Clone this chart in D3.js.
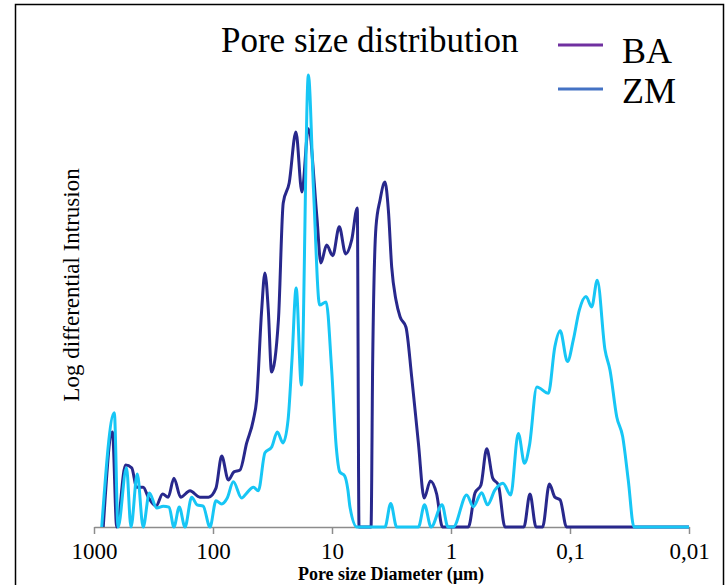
<!DOCTYPE html>
<html>
<head>
<meta charset="utf-8">
<script src="https://cdn.jsdelivr.net/npm/d3@7"></script>
<style>
  body { margin: 0; background: #fff; }
  svg { display: block; }
</style>
</head>
<body>
<svg id="chart" width="725" height="585"></svg>
<script>
// Pore diameters (µm) and log differential intrusion (relative units)
var baDiameter = [836, 700, 644, 543, 482, 438, 386, 350, 301, 265, 238, 213, 187, 156, 129, 109,
  94.4, 84.5, 74.3, 66.7, 59.3, 52.1, 45.8, 43.0, 39.0, 36.6, 34.3, 32.2, 28.2, 25.7, 22.9, 20.1,
  17.9, 15.8, 13.4, 12.4, 11.1, 9.86, 8.69, 7.67, 6.83, 6.13, 5.93, 4.70, 4.55, 4.27, 3.95, 3.59,
  3.36, 3.15, 2.90, 2.68, 2.39, 2.14, 1.88, 1.68, 1.49, 1.32, 1.18, 0.715, 0.629, 0.560, 0.501,
  0.446, 0.400, 0.352, 0.244, 0.217, 0.193, 0.170, 0.149, 0.134, 0.121, 0.107, 0.01];
var baIntrusion = [0, 21.0, 0, 13.7, 13.1, 8.8, 8.8, 6.6, 4.6, 7.3, 6.6, 10.8, 6.6, 8.0, 6.6, 6.6,
  8.6, 15.7, 10.4, 12.2, 12.6, 18.6, 23.7, 28.1, 48.0, 56.2, 48.0, 34.3, 45.8, 71.7, 76.1, 87.4,
  74.1, 88.1, 68.6, 58.4, 62.4, 60.0, 66.4, 60.4, 63.5, 70.6, 0, 0, 36.9, 66.4, 72.3, 76.3,
  70.1, 57.5, 50.2, 46.5, 44.2, 33.2, 18.6, 6.4, 10.2, 7.3, 0, 0, 7.5, 9.3, 17.3,
  10.8, 9.3, 0, 0, 7.3, 0, 0, 9.5, 6.6, 6.0, 0, 0];

var zmDiameter = [861, 675, 628, 533, 489, 433, 386, 343, 297, 262, 234, 213, 192, 172, 151, 136,
  121, 106, 94.4, 84.5, 75.9, 67.5, 57.4, 52.1, 45.8, 41.6, 36.6, 32.1, 28.8, 25.8, 23.4, 21.7,
  20.0, 18.1, 15.8, 14.3, 12.7, 11.2, 10.1, 9.21, 8.61, 7.82, 7.35, 7.07, 6.17, 3.59, 3.21, 2.86,
  1.88, 1.67, 1.47, 1.19, 1.06, 0.956, 0.738, 0.650, 0.552, 0.494, 0.427, 0.366, 0.315, 0.272,
  0.241, 0.219, 0.190, 0.152, 0.134, 0.121, 0.105, 0.0938, 0.0835, 0.0734, 0.0657, 0.0590,
  0.0508, 0.0461, 0.0405, 0.0361, 0.0324, 0.0290, 0.01];
var zmIntrusion = [0, 25.3, 0, 13.1, 0, 11.7, 0, 7.5, 4.2, 4.6, 4.4, 0, 4.4, 0, 6.6, 4.9,
  4.6, 0, 5.8, 5.1, 6.4, 10.0, 6.4, 7.5, 8.8, 8.0, 16.4, 17.7, 21.0, 18.6, 23.7, 36.9,
  52.9, 31.4, 100, 74.6, 49.1, 49.8, 35.4, 17.7, 12.2, 11.3, 8.2, 4.5, 0, 0, 5.2, 0,
  0, 4.9, 0, 4.9, 0, 0, 7.1, 4.5, 7.6, 4.9, 8.2, 9.7, 7.1, 20.7,
  14.1, 18.1, 31.0, 29.6, 39.9, 43.4, 36.6, 41.4, 48.0, 51.0, 48.7, 54.6,
  39.2, 34.7, 24.4, 20.0, 10.4, 0, 0];

var tickValues = [1000, 100, 10, 1, 0.1, 0.01];
var tickLabels = ["1000", "100", "10", "1", "0,1", "0,01"];
var seriesNames = ["BA", "ZM"];

var serif = "'Times New Roman', 'Liberation Serif', serif";

var svg = d3.select("#chart");

// outer frame of the original picture
svg.append("rect")
  .attr("x", 15.5).attr("y", 4.5)
  .attr("width", 708).attr("height", 600)
  .attr("fill", "none")
  .attr("stroke", "#000")
  .attr("stroke-width", 1.5);

/* diameter axis runs from large pores on the left to small on the right */
var x = d3.scaleLog().domain([1000, 0.01]).range([94, 689]);
var y = d3.scaleLinear().domain([0, 100]).range([527, 75]);

var line = d3.line()
  .x(function(d) { return x(d.d); })
  .y(function(d) { return y(d.v); })
  .curve(d3.curveMonotoneX);

function zipSeries(ds, vs) {
  return ds.map(function(d, i) { return {d: d, v: vs[i]}; });
}

// X axis
var xAxis = svg.append("g")
  .attr("transform", "translate(0," + 527 + ")")
  .call(d3.axisBottom(x)
    .tickValues(tickValues)
    .tickFormat(function(d, i) { return tickLabels[i]; })
    .tickSize(7)
    .tickSizeOuter(0)
    .tickPadding(9));
xAxis.select(".domain").attr("stroke", "#8c8c8c").attr("stroke-width", 1.5);
xAxis.selectAll(".tick line").attr("stroke", "#8c8c8c").attr("stroke-width", 1.5);
xAxis.selectAll(".tick text")
  .attr("font-family", serif)
  .attr("font-size", 23)
  .attr("fill", "#000");

// series lines, BA first so ZM sits on top
svg.append("path")
  .datum(zipSeries(baDiameter, baIntrusion))
  .attr("d", line)
  .attr("fill", "none")
  .attr("stroke", "#28288c")
  .attr("stroke-width", 3)
  .attr("stroke-linejoin", "round");

svg.append("path")
  .datum(zipSeries(zmDiameter, zmIntrusion))
  .attr("d", line)
  .attr("fill", "none")
  .attr("stroke", "#17c6f5")
  .attr("stroke-width", 3)
  .attr("stroke-linejoin", "round");

// Title
svg.append("text")
  .attr("x", 221).attr("y", 52)
  .attr("font-family", serif)
  .attr("font-size", 35)
  .text("Pore size distribution");

// Legend (colours as in the original legend)
var legendColors = ["#7030a0", "#4472c4"];
var legendLineY = [45, 89];
var legendTextY = [63, 103];
seriesNames.forEach(function(name, i) {
  svg.append("line")
    .attr("x1", 558).attr("x2", 603)
    .attr("y1", legendLineY[i]).attr("y2", legendLineY[i])
    .attr("stroke", legendColors[i])
    .attr("stroke-width", 3);
  svg.append("text")
    .attr("x", 622).attr("y", legendTextY[i])
    .attr("font-family", serif)
    .attr("font-size", 36)
    .text(name);
});

// Axis titles
svg.append("text")
  .attr("x", 391).attr("y", 580)
  .attr("text-anchor", "middle")
  .attr("font-family", serif)
  .attr("font-weight", "bold")
  .attr("font-size", 18)
  .text("Pore size Diameter (µm)");

svg.append("text")
  .attr("transform", "translate(79,285) rotate(-90)")
  .attr("text-anchor", "middle")
  .attr("font-family", serif)
  .attr("font-size", 23)
  .text("Log differential Intrusion");
</script>
</body>
</html>
